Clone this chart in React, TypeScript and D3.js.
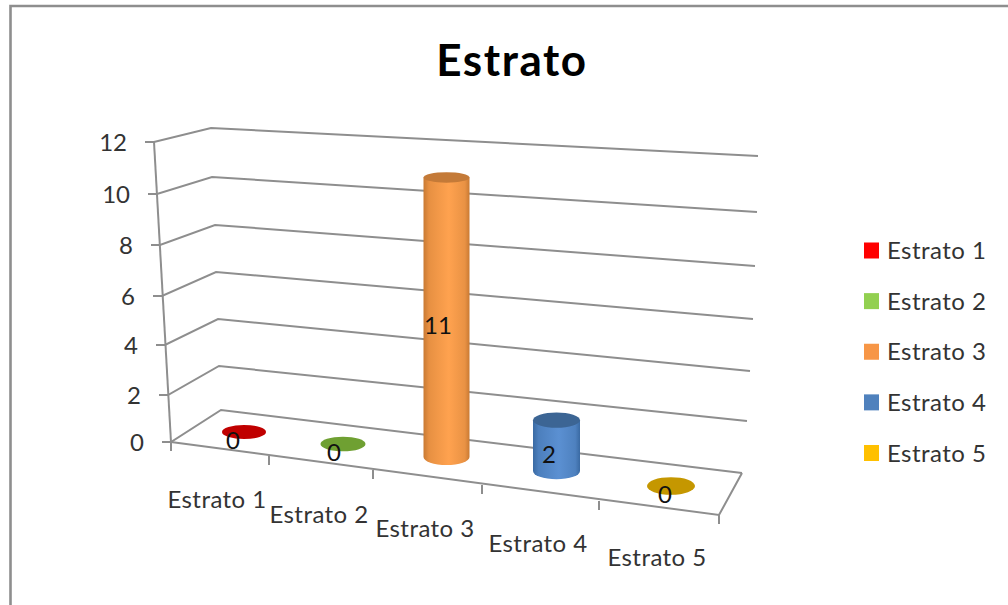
import React from "react";
import * as d3 from "d3";

// Chart data
const categories = ["Estrato 1", "Estrato 2", "Estrato 3", "Estrato 4", "Estrato 5"];
const values = [0, 0, 11, 2, 0];
const valueTicks = [0, 2, 4, 6, 8, 10, 12];

// Series colours
const legendColors = ["#ff0000", "#92d050", "#f79646", "#4f81bd", "#ffc000"];
const capColors = ["#c00000", "#6fa032", "#c47a38", "#3c6594", "#c59700"];
const edgeColors = ["#a00000", "#5a8a28", "#c97a33", "#3a6aa3", "#a88000"];
const midColors = ["#ff0000", "#92d050", "#ffa24f", "#5b90d2", "#ffc000"];

// Projection of the 3D box: the wall corners for each value tick
const frontX = d3.scaleLinear().domain(valueTicks).range([171, 168, 165, 162, 160, 157, 154]);
const frontY = d3.scaleLinear().domain(valueTicks).range([442, 395, 345, 296, 245, 194, 142]);
const backX = d3.scaleLinear().domain(valueTicks).range([221, 219, 218, 216, 215, 212, 211]);
const backY = d3.scaleLinear().domain(valueTicks).range([410, 366, 319, 272, 225, 177, 128]);
const rightX = d3.scaleLinear().domain(valueTicks).range([742, 747, 750, 753, 755, 757, 758]);
const rightY = d3.scaleLinear().domain(valueTicks).range([473, 421, 371, 319, 266, 212, 156]);

// Floor positions along the category axis
const slots = d3.range(categories.length);
const tickX = d3.scaleLinear().domain([0, 1, 2, 3, 4, 5]).range([171, 269, 373, 482, 599, 719]);
const tickY = d3.scaleLinear().domain([0, 1, 2, 3, 4, 5]).range([442, 456, 470, 485, 501, 515]);
const baseX = d3.scaleLinear().domain(slots).range([244, 343, 446.5, 556.5, 671]);
const baseY = d3.scaleLinear().domain(slots).range([432, 444, 457, 471, 486]);
const radiusX = d3.scaleLinear().domain(slots).range([22, 22.5, 23, 23.5, 24]);
const radiusY = d3.scaleLinear().domain(slots).range([7, 7.3, 8, 8.2, 8.8]);
const labelX = d3.scaleLinear().domain(slots).range([217, 319, 425, 538, 657]);
const labelY = d3.scaleLinear().domain(slots).range([508, 523, 537, 552, 566]);
const valueLabelShift = d3.scaleLinear().domain(slots).range([-11, -9, -8.5, -7.5, -6]);
const rise = d3.scaleLinear().domain([0, 12]).range([0, 305]);
const capShrink = d3.scaleLinear().domain([0, 12]).range([1, 0.62]);
const legendY = d3.scalePoint<number>().domain(slots).range([250.5, 453]);

const FONT = "Lato, 'Open Sans', sans-serif";
const AXIS = "#8e8e8e";
const TEXT = "#333333";
const LABEL_SPACING = 0.45;

export default function App() {
  const floor = d3.line()([
    [frontX(0), frontY(0)],
    [tickX(5), tickY(5)],
    [rightX(0), rightY(0)],
  ]);
  return (
    <svg
      width={1008}
      height={605}
      viewBox="0 0 1008 605"
      style={{ position: "absolute", left: 0, top: 0, background: "#fff" }}
      fontFamily={FONT}
    >
      <defs>
        {categories.map((c, i) => (
          <linearGradient key={c} id={`body-${i}`} x1="0" x2="1" y1="0" y2="0">
            <stop offset="0" stopColor={edgeColors[i]} />
            <stop offset="0.12" stopColor={d3.interpolateRgb(edgeColors[i], midColors[i])(0.55)} />
            <stop offset="0.55" stopColor={midColors[i]} />
            <stop offset="0.9" stopColor={d3.interpolateRgb(edgeColors[i], midColors[i])(0.6)} />
            <stop offset="1" stopColor={edgeColors[i]} />
          </linearGradient>
        ))}
      </defs>

      {/* Outer frame, cut off by the page on the right and bottom */}
      <path d="M10.5,605V6H1008" fill="none" stroke={AXIS} strokeWidth={2.6} />

      <text x={512} y={76} textAnchor="middle" fontSize={44} fontWeight={700} letterSpacing={1.6} fill="#000">
        Estrato
      </text>

      {/* Wall gridlines */}
      {valueTicks.map((v) => (
        <path
          key={v}
          d={d3.line()([
            [frontX(v) - 9, frontY(v)],
            [frontX(v), frontY(v)],
            [backX(v), backY(v)],
            [rightX(v), rightY(v)],
          ]) ?? ""}
          fill="none"
          stroke={AXIS}
          strokeWidth={2}
        />
      ))}
      {valueTicks.map((v) => (
        <text
          key={v}
          x={frontX(v) - 27}
          y={frontY(v) + 9}
          textAnchor="end"
          fontSize={24}
          fill={TEXT}
        >
          {v}
        </text>
      ))}

      {/* Value axis and floor outline */}
      <line x1={frontX(12)} y1={frontY(12)} x2={frontX(0)} y2={frontY(0)} stroke={AXIS} strokeWidth={2} />
      <path d={floor ?? ""} fill="none" stroke={AXIS} strokeWidth={2} />
      {d3.range(6).map((t) => (
        <line
          key={t}
          x1={tickX(t)}
          y1={tickY(t)}
          x2={tickX(t)}
          y2={tickY(t) + 9}
          stroke={AXIS}
          strokeWidth={2}
        />
      ))}

      {/* Cylinders: a flat disc stands for a zero value */}
      {values.map((v, i) => {
        const cx = baseX(i);
        const by = baseY(i);
        const ty = by - rise(v);
        const rx = radiusX(i);
        const ry = radiusY(i);
        const capRy = ry * capShrink(v);
        return (
          <g key={categories[i]}>
            {v > 0 && (
              <path
                d={`M${cx - rx},${ty}L${cx - rx},${by}A${rx},${ry} 0 0 0 ${cx + rx},${by}L${cx + rx},${ty}Z`}
                fill={`url(#body-${i})`}
              />
            )}
            <ellipse cx={cx} cy={ty} rx={rx} ry={capRy} fill={capColors[i]} />
          </g>
        );
      })}

      {/* Data labels */}
      {values.map((v, i) => (
        <text
          key={categories[i]}
          x={baseX(i) + valueLabelShift(i)}
          y={baseY(i) - rise(v) / 2 + 17}
          textAnchor="middle"
          fontSize={24}
          fill="#111"
        >
          {v}
        </text>
      ))}

      {/* Category labels */}
      {categories.map((c, i) => (
        <text
          key={c}
          x={labelX(i)}
          y={labelY(i)}
          textAnchor="middle"
          fontSize={24}
          letterSpacing={LABEL_SPACING}
          fill={TEXT}
        >
          {c}
        </text>
      ))}

      {/* Legend */}
      {categories.map((c, i) => (
        <g key={c}>
          <rect x={864} y={(legendY(i) ?? 0) - 8} width={15} height={16} fill={legendColors[i]} />
          <text
            x={887}
            y={(legendY(i) ?? 0) + 8.5}
            fontSize={24}
            letterSpacing={LABEL_SPACING}
            fill={TEXT}
          >
            {c}
          </text>
        </g>
      ))}
    </svg>
  );
}
